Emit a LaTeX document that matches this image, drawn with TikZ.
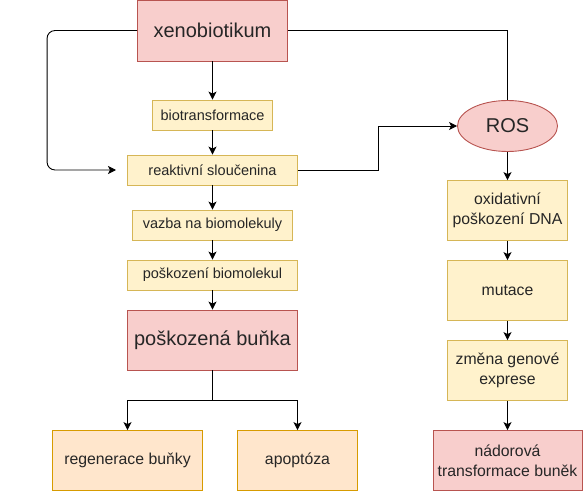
\documentclass[tikz,border=0pt]{standalone}
\usepackage{fontspec}
\setmainfont{Liberation Sans}
\usetikzlibrary{arrows.meta,shapes.geometric}
\definecolor{ylfill}{HTML}{FFF2CC}
\definecolor{yldraw}{HTML}{D6B656}
\definecolor{pkfill}{HTML}{F8CECC}
\definecolor{pkdraw}{HTML}{B85450}
\definecolor{orfill}{HTML}{FFE6CC}
\definecolor{ordraw}{HTML}{D79B00}
\tikzset{
  base/.style={rectangle, inner sep=0pt, line width=0.9pt, align=center, text=black!85},
  ybox/.style={base, fill=ylfill, draw=yldraw, font=\fontsize{14.5}{18.5}\selectfont},
  ytall/.style={base, fill=ylfill, draw=yldraw, font=\fontsize{15.8}{19.8}\selectfont},
  obox/.style={base, fill=orfill, draw=ordraw, font=\fontsize{15.8}{19.8}\selectfont},
  pbox/.style={base, fill=pkfill, draw=pkdraw, font=\fontsize{15.8}{19.8}\selectfont},
  pbig/.style={base, fill=pkfill, draw=pkdraw, font=\fontsize{20}{24}\selectfont},
  arr/.style={-{Stealth[length=8pt,width=8pt,inset=2pt]}, line width=0.9pt},
  ln/.style={line width=0.9pt}
}
\begin{document}
\begin{tikzpicture}[x=1pt,y=-1pt]
\useasboundingbox (0,0) rectangle (583,497);
\node[pbig, minimum width=150pt, minimum height=61pt] (xeno) at (212.5,30.5) {xenobiotikum};
\node[ybox, minimum width=120pt, minimum height=30pt] (bio) at (212.5,115) {biotransformace};
\node[ybox, minimum width=170pt, minimum height=30pt] (reak) at (212.5,170) {reaktivní sloučenina};
\node[ybox, minimum width=160pt, minimum height=30pt] (vazba) at (212.5,225) {vazba na biomolekuly};
\node[ybox, minimum width=170pt, minimum height=30pt] (posk) at (212.5,275) {poškození biomolekul};
\node[pbig, minimum width=170pt, minimum height=60pt] (bunka) at (212.5,340) {poškozená buňka};
\node[obox, minimum width=150pt, minimum height=60pt] (regen) at (127.5,460.5) {regenerace buňky};
\node[obox, minimum width=120pt, minimum height=60pt] (apop) at (297.5,460.5) {apoptóza};
\node[pbig, ellipse, minimum width=100pt, minimum height=51pt] (ros) at (507.5,126) {ROS};
\node[ytall, minimum width=120pt, minimum height=60pt] (oxid) at (507.5,210.5) {oxidativní\\poškození DNA};
\node[ytall, minimum width=120pt, minimum height=60pt] (mut) at (507.5,290.5) {mutace};
\node[ytall, minimum width=120pt, minimum height=60pt] (zmena) at (507.5,370.5) {změna genové\\exprese};
\node[pbox, minimum width=149pt, minimum height=60pt] (nador) at (507.5,460.5) {nádorová\\transformace buněk};
\coordinate (loopend) at (116,170);

\draw[arr] (xeno.south) -- (bio.north);
\draw[arr] (bio.south) -- (reak.north);
\draw[arr] (reak.south) -- (vazba.north);
\draw[arr] (vazba.south) -- (posk.north);
\draw[arr] (posk.south) -- (bunka.north);
\draw[arr] (bunka.south) -- ++(0,30) -| (regen.north);
\draw[arr] (bunka.south) -- ++(0,30) -| (apop.north);
\draw[arr, rounded corners=8pt] (xeno.west) -- ++(-90,0) |- (loopend);
\draw[ln] (xeno.east) -| (ros.north);
\draw[arr] (reak.east) -- ++(80,0) |- (ros.west);
\draw[arr] (ros.south) -- (oxid.north);
\draw[arr] (oxid.south) -- (mut.north);
\draw[arr] (mut.south) -- (zmena.north);
\draw[arr] (zmena.south) -- (nador.north);
\end{tikzpicture}
\end{document}
